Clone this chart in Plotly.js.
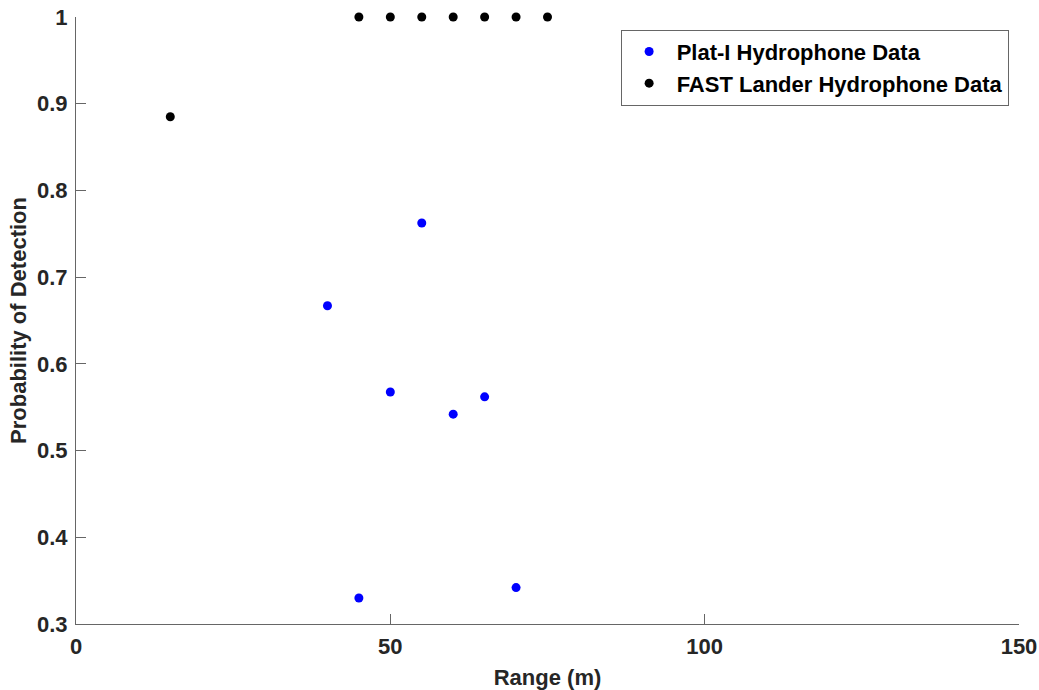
<!DOCTYPE html>
<html><head><meta charset="utf-8">
<script src="https://cdn.plot.ly/plotly-3.0.1.min.js"></script>
<style>body{margin:0;background:#fff}#c{width:1039px;height:690px}</style>
</head><body><div id="c"></div>
<script>
const platRange = [40, 45, 50, 55, 60, 65, 70];
const platPd = [0.667, 0.330, 0.5675, 0.7625, 0.542, 0.562, 0.342];
const fastRange = [15, 45, 50, 55, 60, 65, 70, 75];
const fastPd = [0.885, 1, 1, 1, 1, 1, 1, 1];
const xTicks = [0, 50, 100, 150];
const yTicks = [0.3, 0.4, 0.5, 0.6, 0.7, 0.8, 0.9, 1];

const fnt = {family: 'Liberation Sans, Arial, sans-serif', size: 22, color: '#262626', weight: 'bold'};
const data = [
  {x: platRange, y: platPd, mode: 'markers', type: 'scatter', name: 'Plat-I Hydrophone Data',
   marker: {color: '#0000ff', size: 9}, cliponaxis: false},
  {x: fastRange, y: fastPd, mode: 'markers', type: 'scatter', name: 'FAST Lander Hydrophone Data',
   marker: {color: '#000000', size: 9}, cliponaxis: false}
];
const layout = {
  width: 1039, height: 690,
  margin: {l: 76, r: 20, t: 17, b: 66},
  paper_bgcolor: '#fff', plot_bgcolor: '#fff',
  showlegend: true,
  legend: {x: 0.989, y: 0.979, xanchor: 'right', yanchor: 'top', bgcolor: '#fff',
    bordercolor: '#666', borderwidth: 1, tracegroupgap: 0, itemwidth: 45,
    font: {family: 'Liberation Sans, Arial, sans-serif', size: 22, color: '#000', weight: 'bold'}},
  xaxis: {range: [0, 150], tickvals: xTicks, ticktext: xTicks.map(String),
    showgrid: false, zeroline: false, showline: true, linecolor: '#666', linewidth: 1,
    ticks: 'inside', ticklen: 10, tickcolor: '#666', tickfont: fnt, ticklabelstandoff: 3,
    title: {text: 'Range (m)', font: fnt, standoff: 12}},
  yaxis: {range: [0.3, 1], tickvals: yTicks, ticktext: yTicks.map(String),
    showgrid: false, zeroline: false, showline: true, linecolor: '#666', linewidth: 1,
    ticks: 'inside', ticklen: 10, tickcolor: '#666', tickfont: fnt, ticklabelstandoff: 3,
    title: {text: 'Probability of Detection', font: fnt, standoff: 4}}
};
Plotly.newPlot('c', data, layout, {displayModeBar: false, staticPlot: true});
</script></body></html>
